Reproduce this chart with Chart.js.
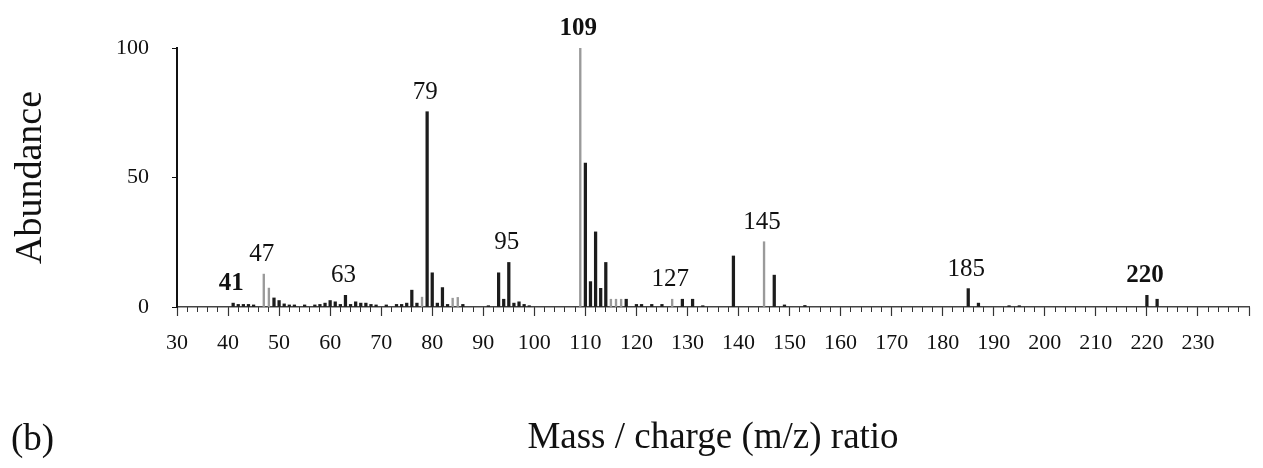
<!DOCTYPE html>
<html>
<head>
<meta charset="utf-8">
<script src="https://cdn.jsdelivr.net/npm/chart.js@4.4.1/dist/chart.umd.min.js"></script>
<style>
  html, body { margin: 0; padding: 0; background: #ffffff; }
  #wrap { position: relative; width: 1263px; height: 468px; }
  #panel { position: absolute; left: 11px; top: 419px; font: 37px "Liberation Serif", serif; line-height: 37px; color: #111; }
</style>
</head>
<body>
<div id="wrap">
  <canvas id="c" width="1263" height="468"></canvas>
  <div id="panel">(b)</div>
</div>
<script>
// m/z values and abundances (dark bars)
const darkMz = [41, 42, 43, 44, 45, 49, 50, 51, 52, 53, 55, 57, 58, 59, 60, 61, 62, 63, 64, 65, 66, 67, 68, 69, 71, 73, 74, 75, 76, 77,
                79, 80, 81, 82, 83, 86, 91, 93, 94, 95, 96, 97, 98, 99, 110, 111, 112, 113, 114, 118, 120, 121, 123, 125, 129, 131, 133,
                139, 147, 149, 153, 185, 187, 193, 195, 220, 222];
const darkAbund = [1.5, 1, 1, 1, 0.8, 3.5, 2.5, 1.2, 0.8, 0.8, 0.8, 0.8, 1, 1.5, 2.5, 2, 1, 4.5, 1, 2, 1.5, 1.5, 1, 0.8, 0.8, 1, 1, 1.5, 6.5, 1.5,
                   75.4, 13.2, 1.5, 7.5, 1, 1, 0.5, 13.2, 3, 17.2, 1.5, 2, 1, 0.5, 55.6, 9.8, 29, 7.2, 17.2, 3, 1, 1, 1, 1, 3, 3, 0.5,
                   19.7, 12.3, 0.8, 0.6, 7.1, 1.5, 0.5, 0.5, 4.5, 3];
// m/z values and abundances (grey bars)
const greyMz = [47, 48, 78, 84, 85, 109, 115, 116, 117, 127, 145];
const greyAbund = [12.7, 7.3, 3.8, 3.4, 3.7, 100, 3, 3, 3, 3, 25.2];

// annotated peaks
const peakLabels = [41, 47, 63, 79, 95, 109, 127, 145, 185, 220];
const boldPeaks = [41, 109, 220];

// axis settings
const xMin = 30, xMax = 240, xLastLabel = 230;
const yTicks = [0, 50, 100];

function abundanceOf(mz) {
  let i = darkMz.indexOf(mz);
  if (i >= 0) return darkAbund[i];
  i = greyMz.indexOf(mz);
  return i >= 0 ? greyAbund[i] : 0;
}

const peakLabelPlugin = {
  id: 'peakLabels',
  afterDatasetsDraw(chart) {
    const { ctx, scales: { x, y } } = chart;
    ctx.save();
    ctx.fillStyle = '#111';
    ctx.textAlign = 'center';
    ctx.textBaseline = 'alphabetic';
    peakLabels.forEach(mz => {
      const px = x.getPixelForValue(mz) - 2;
      const py = y.getPixelForValue(abundanceOf(mz)) - 13;
      ctx.font = (boldPeaks.includes(mz) ? 'bold ' : '') + '25px "Liberation Serif"';
      ctx.fillText(String(mz), px, py);
    });
    ctx.restore();
  }
};

const serif = 'Liberation Serif';

new Chart(document.getElementById('c'), {
  type: 'bar',
  data: {
    datasets: [
      {
        label: 'dark',
        data: darkMz.map((m, i) => ({ x: m, y: darkAbund[i] })),
        backgroundColor: '#1c1c1c',
        barThickness: 2.6,
        grouped: false
      },
      {
        label: 'grey',
        data: greyMz.map((m, i) => ({ x: m, y: greyAbund[i] })),
        backgroundColor: '#9a9a9a',
        barThickness: 1.7,
        grouped: false
      }
    ]
  },
  options: {
    responsive: false,
    animation: false,
    layout: { padding: { top: 48, right: 4, left: 0, bottom: 0 } },
    plugins: { legend: { display: false }, tooltip: { enabled: false } },
    scales: {
      x: {
        type: 'linear',
        min: xMin, max: xMax,
        offset: false,
        grid: { drawOnChartArea: false, offset: false, tickLength: 9, tickColor: '#333', tickWidth: 1.2 },
        border: { display: true, color: '#444', width: 1.5 },
        ticks: {
          stepSize: 10, autoSkip: false, maxRotation: 0, padding: 14, color: '#111',
          font: { family: serif, size: 22 },
          callback: v => (v <= xLastLabel ? String(v) : '')
        },
        title: {
          display: true, text: 'Mass / charge (m/z) ratio', color: '#111',
          font: { family: serif, size: 37 }, padding: { top: 0, bottom: 8 }
        },
        afterFit: s => { s.height = 161; }
      },
      xMinor: {
        type: 'linear',
        axis: 'x',
        position: { y: 0 },
        min: xMin, max: xMax,
        offset: false,
        grid: { drawOnChartArea: false, offset: false, tickLength: 5, tickColor: '#333', tickWidth: 1 },
        border: { display: false },
        ticks: { display: false, stepSize: 2, autoSkip: false }
      },
      y: {
        min: 0, max: 100,
        afterBuildTicks: s => { s.ticks = yTicks.map(v => ({ value: v })); },
        grid: { drawOnChartArea: false, tickLength: 5, tickColor: '#111' },
        border: { color: '#111', width: 2 },
        ticks: { padding: 23, color: '#111', font: { family: serif, size: 22 } },
        title: {
          display: true, text: 'Abundance', color: '#111',
          font: { family: serif, size: 38 }, padding: { top: 8, bottom: 0 }
        },
        afterFit: s => { s.width = 177; }
      }
    }
  },
  plugins: [peakLabelPlugin]
});
</script>
</body>
</html>
